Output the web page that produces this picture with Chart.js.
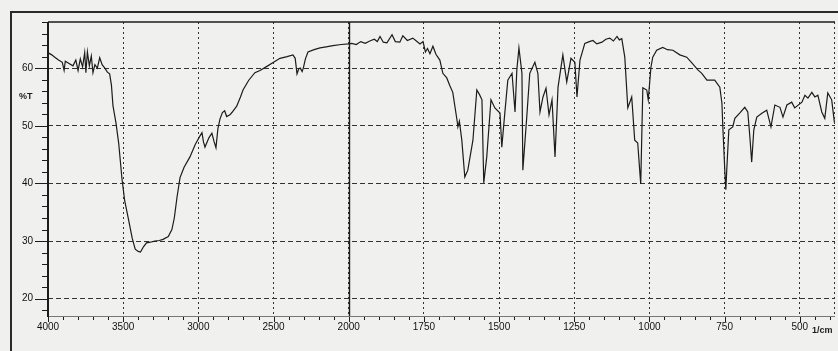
<!DOCTYPE html>
<html lang="en">
<head>
    <meta charset="UTF-8">
    <title>IR Spectrum</title>
    <script src="https://cdn.jsdelivr.net/npm/chart.js"></script>
    <style>
        html, body { margin: 0; padding: 0; background: #efefed; }
        .sheet { position: relative; width: 838px; height: 351px; overflow: hidden; background: #f0f0ee; }
        .frame { position: absolute; left: 10px; top: 11px; width: 840px; height: 350px;
                 border-left: 2px solid #2a2a2a; border-top: 2px solid #2a2a2a; }
        #spectrum { position: absolute; left: 0; top: 0; }
    </style>
</head>
<body>
    <div class="sheet">
        <div class="frame"></div>
        <canvas id="spectrum" width="838" height="351"></canvas>
    </div>

    <script>
        // wavenumber (1/cm) and %T
        const wavenumbers = [
            3995, 3975, 3955, 3930, 3905, 3893, 3885, 3860, 3834, 3815, 3800, 3785, 3770, 3756, 3748, 3738,
            3725, 3712, 3701, 3688, 3672, 3656, 3640, 3622, 3605, 3590, 3578, 3568, 3548, 3530, 3508, 3490,
            3468, 3440, 3420, 3400, 3385, 3365, 3345, 3320, 3290, 3260, 3235, 3200, 3176, 3160, 3142, 3122,
            3095, 3056, 3020, 2990, 2976, 2966, 2956, 2930, 2910, 2895, 2883, 2870, 2856, 2840, 2825, 2812,
            2790, 2777, 2745, 2720, 2703, 2665, 2624, 2590, 2544, 2500, 2457, 2410, 2371, 2356, 2344, 2332,
            2322, 2310, 2302, 2288, 2271, 2230, 2191, 2150, 2105, 2050, 2000,
            1990, 1975, 1960, 1945, 1930, 1915, 1905, 1896, 1885, 1873, 1856, 1845, 1830, 1820, 1805, 1787,
            1775, 1763, 1753, 1745, 1738, 1730, 1720, 1710, 1697, 1687, 1674, 1664, 1654, 1640, 1637, 1632,
            1624, 1614, 1604, 1587, 1574, 1565, 1557, 1551, 1541, 1527, 1514, 1497, 1491, 1481, 1471, 1457,
            1447, 1441, 1434, 1424, 1421, 1408, 1398, 1381, 1371, 1364, 1354, 1344, 1334, 1324, 1314, 1304,
            1288, 1275, 1261, 1248, 1241, 1231, 1215, 1200, 1188, 1175, 1158, 1145, 1132, 1120, 1108, 1100,
            1092, 1082, 1072, 1059, 1049, 1039, 1032, 1029, 1022, 1009, 1004, 995, 989, 976, 956, 940,
            922, 899, 876, 859, 839, 826, 809, 783, 766, 759, 756, 749, 746, 743, 736, 723,
            716, 700, 683, 673, 666, 660, 653, 643, 625, 610, 596, 583, 566, 556, 543, 527,
            517, 493, 483, 473, 460, 450, 440, 427, 417, 407, 394, 385
        ];
        const transmittance = [
            62.6, 62.3, 61.9, 61.4, 61.0, 59.6, 61.2, 60.8, 60.4, 61.4, 59.6, 61.6, 60.2, 62.7, 59.2, 62.8,
            60.4, 62.1, 59.2, 60.6, 60.0, 61.8, 60.6, 60.0, 59.3, 59.0, 57.0, 53.5, 50.5, 47.0, 40.8, 37.0,
            34.2, 30.5, 28.6, 28.2, 28.1, 29.0, 29.7, 29.8, 30.0, 30.1, 30.3, 30.8, 32.0, 34.0, 37.6, 41.0,
            42.8, 44.6, 46.8, 48.2, 48.8, 47.2, 46.3, 47.9, 48.7, 47.2, 46.2, 49.5, 51.2, 52.3, 52.6, 51.6,
            51.9, 52.3, 53.4, 55.0, 56.2, 57.9, 59.2, 59.6, 60.3, 61.0, 61.7, 62.0, 62.3, 61.7, 59.0, 59.9,
            60.0, 59.4, 60.0, 61.6, 62.8, 63.2, 63.5, 63.7, 63.9, 64.1, 64.2,
            64.3, 64.1, 64.6, 64.3, 64.7, 65.0, 64.6, 65.5, 64.5, 64.4, 65.8, 64.6, 64.5, 65.6, 64.8, 65.2,
            64.7, 64.2, 64.6, 62.8, 63.4, 62.5, 63.8, 62.4, 61.4, 59.1, 58.3, 57.0, 55.8, 51.0, 49.8, 50.8,
            47.5, 41.1, 42.3, 47.5, 56.2, 55.4, 54.5, 40.1, 44.6, 54.5, 53.1, 52.2, 46.3, 52.2, 57.9, 59.1,
            52.4, 59.7, 63.5, 59.1, 42.3, 51.5, 59.1, 61.0, 59.1, 52.4, 55.0, 56.5, 51.9, 54.5, 44.6, 56.7,
            62.3, 57.6, 61.7, 61.0, 55.0, 61.4, 64.3, 64.6, 64.8, 64.2, 64.5, 65.0, 65.2, 64.7, 65.5, 64.9,
            65.1, 61.9, 53.1, 55.0, 47.5, 47.0, 42.0, 39.9, 56.6, 56.2, 54.5, 60.2, 61.9, 63.1, 63.6, 63.2,
            63.1, 62.3, 61.9, 60.9, 59.7, 59.1, 57.9, 57.9, 56.7, 53.9, 49.8, 41.8, 38.9, 42.3, 49.3, 49.8,
            51.3, 52.2, 53.2, 52.4, 48.0, 43.7, 49.3, 51.5, 52.2, 52.7, 49.8, 53.6, 53.2, 51.5, 53.6, 54.1,
            53.1, 54.1, 55.3, 54.8, 55.8, 55.0, 55.3, 52.4, 51.3, 55.7, 54.5, 50.6
        ];
        const xTickLabels = ['4000', '3500', '3000', '2500', '2000', '1750', '1500', '1250', '1000', '750', '500'];
        const yTickValues = [20, 30, 40, 50, 60];
        const yMin = 17, yMax = 68;
        const lowEnd = 383; // right edge of the scan range

        // split abscissa: 500 1/cm per division above 2000, 250 below
        function toAxis(wn) {
            return wn >= 2000 ? (4000 - wn) / 500 : 4 + (2000 - wn) / 250;
        }
        const xMax = toAxis(lowEnd);
        const points = wavenumbers.map((wn, i) => ({ x: toAxis(wn), y: transmittance[i] }));

        const ink = '#1c1c1c';

        function seg(ctx, x1, y1, x2, y2) {
            ctx.beginPath();
            ctx.moveTo(x1, y1);
            ctx.lineTo(x2, y2);
            ctx.stroke();
        }

        // frame, break line, minor ticks and unit labels
        const axisDecor = {
            id: 'axisDecor',
            afterDraw(chart) {
                const { ctx, chartArea: a, scales: { x, y } } = chart;
                ctx.save();
                ctx.strokeStyle = ink;

                // y ticks every 2 %T, longer at the labelled ones
                ctx.lineWidth = 1;
                for (let v = 18; v <= yMax; v += 2) {
                    const py = Math.round(y.getPixelForValue(v)) + 0.5;
                    const len = v % 10 === 0 ? 13 : 6;
                    seg(ctx, a.left - len, py, a.left, py);
                }
                // x ticks, four minors per division
                for (let i = 0; i * 0.2 <= xMax; i++) {
                    const px = Math.round(x.getPixelForValue(i * 0.2)) + 0.5;
                    const len = i % 5 === 0 ? 6 : 4;
                    seg(ctx, px, a.bottom, px, a.bottom + len);
                }

                // bottom axis (faint) and dotted right edge
                ctx.strokeStyle = '#777';
                seg(ctx, a.left, a.bottom + 0.5, a.right, a.bottom + 0.5);
                ctx.strokeStyle = '#333';
                ctx.setLineDash([2, 3]);
                seg(ctx, a.right - 0.5, a.top, a.right - 0.5, a.bottom);
                ctx.setLineDash([]);

                // left axis and top border
                ctx.strokeStyle = ink;
                ctx.lineWidth = 2;
                seg(ctx, a.left, a.top, a.left, a.bottom + 1);
                ctx.lineWidth = 1.5;
                seg(ctx, a.left, a.top, a.right, a.top);

                // solid line at the scale change (2000)
                const pb = Math.round(x.getPixelForValue(toAxis(2000))) + 0.5;
                ctx.lineWidth = 1.4;
                seg(ctx, pb, a.top, pb, a.bottom);

                ctx.fillStyle = ink;
                ctx.font = 'bold 9px "Liberation Sans", Arial, sans-serif';
                ctx.textBaseline = 'middle';
                ctx.textAlign = 'left';
                ctx.fillText('%T', 19, 97);
                ctx.font = 'bold 9px "Liberation Sans", Arial, sans-serif';
                ctx.fillText('1/cm', 812, 331);
                ctx.restore();
            }
        };

        new Chart(document.getElementById('spectrum'), {
            type: 'line',
            data: {
                datasets: [{
                    data: points,
                    borderColor: ink,
                    borderWidth: 1.2,
                    pointRadius: 0,
                    tension: 0,
                    fill: false
                }]
            },
            options: {
                responsive: false,
                animation: false,
                layout: { padding: { top: 22, right: 3, left: 0, bottom: 0 } },
                plugins: { legend: { display: false }, tooltip: { enabled: false } },
                scales: {
                    x: {
                        type: 'linear',
                        bounds: 'data',
                        min: 0,
                        max: xMax,
                        afterBuildTicks: s => { s.ticks = xTickLabels.map((_, i) => ({ value: i })); },
                        afterFit: s => { s.height = 35; },
                        grid: { color: '#333', lineWidth: 1, drawTicks: false },
                        border: { display: false, dash: [2, 3] },
                        ticks: {
                            autoSkip: false,
                            maxRotation: 0,
                            padding: 5,
                            color: '#111',
                            font: { family: '"Liberation Sans", Arial, sans-serif', size: 10 },
                            callback: v => xTickLabels[Math.round(v)]
                        }
                    },
                    y: {
                        type: 'linear',
                        bounds: 'data',
                        min: yMin,
                        max: yMax,
                        afterBuildTicks: s => { s.ticks = yTickValues.map(v => ({ value: v })); },
                        afterFit: s => { s.width = 48; },
                        grid: { color: '#333', lineWidth: 1, drawTicks: false },
                        border: { display: false, dash: [5, 3] },
                        ticks: {
                            autoSkip: false,
                            padding: 15,
                            color: '#111',
                            font: { family: '"Liberation Sans", Arial, sans-serif', size: 10 }
                        }
                    }
                }
            },
            plugins: [axisDecor]
        });
    </script>
</body>
</html>
